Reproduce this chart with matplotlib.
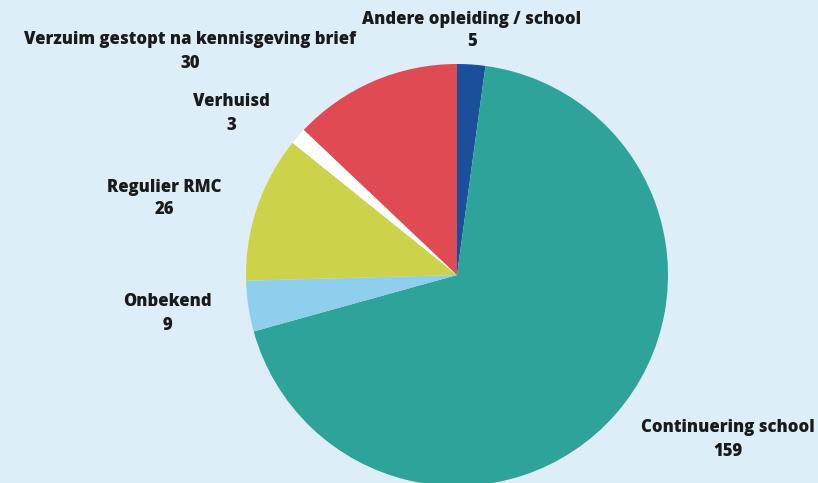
import matplotlib
matplotlib.use("Agg")
import matplotlib.pyplot as plt

# slices, clockwise from 12 o'clock
categories = ["Andere opleiding / school", "Continuering school", "Onbekend",
              "Regulier RMC", "Verhuisd", "Verzuim gestopt na kennisgeving brief"]
values = [5, 159, 9, 26, 3, 30]
colors = ["#1b4f9c", "#2ea39a", "#8ecfee", "#ccd34a", "#ffffff", "#e04a52"]

# label anchor points in figure pixels (x, y from top)
label_pos = [(472, 19), (728, 428), (167, 302), (164, 187), (231, 102), (190, 40)]

W, H = 818, 483
bg = "#ddeef9"

fig = plt.figure(figsize=(W / 100, H / 100), dpi=100)
fig.patch.set_facecolor(bg)
ax = fig.add_axes([0, 0, 1, 1])
ax.set_facecolor(bg)

cx, cy, r = 457, H - 275, 211
ax.pie(values, colors=colors, startangle=90, counterclock=False,
       center=(cx, cy), radius=r, frame=True,
       wedgeprops=dict(linewidth=0))
ax.set_xlim(0, W)
ax.set_ylim(0, H)
ax.set_aspect("equal")
ax.axis("off")

for name, val, (x, y) in zip(categories, values, label_pos):
    ax.text(x, H - y, name, ha="center", va="center", fontsize=12,
            fontweight=800, family="Open Sans", color="#1a1a1a")
    ax.text(x, H - y - 23, str(val), ha="center", va="center", fontsize=12,
            fontweight=800, family="Open Sans", color="#1a1a1a")

fig.savefig("out.png", dpi=100, facecolor=bg)
